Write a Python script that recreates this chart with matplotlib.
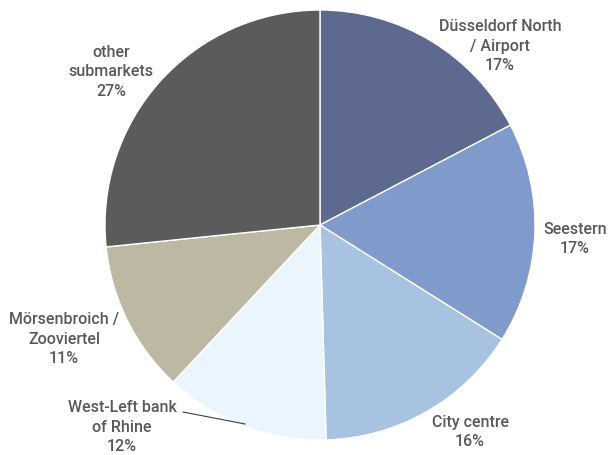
import matplotlib.pyplot as plt

# slice shares (clockwise from 12 o'clock)
names = ["Düsseldorf North\n/ Airport", "Seestern", "City centre",
         "West-Left bank\nof Rhine", "Mörsenbroich /\nZooviertel", "other\nsubmarkets"]
shares = [17.3, 16.6, 15.6, 12.4, 11.4, 26.6]
shown = ["17%", "17%", "16%", "12%", "11%", "27%"]
colors = ["#5e6990", "#7f9acb", "#a8c3e2", "#eaf5fd", "#bdb8a3", "#5b5b5b"]

# label centre positions in pixels (image coords, y down)
label_pos = [(500, 46), (575, 239), (470, 432), (122, 427), (64, 339), (111, 72)]

W, H = 610, 455
fig = plt.figure(figsize=(W / 100, H / 100), dpi=100)
ax = fig.add_axes([0, 0, 1, 1])

ax.pie(shares, colors=colors, startangle=90, counterclock=False,
       center=(320, H - 225), radius=215,
       wedgeprops=dict(edgecolor="white", linewidth=1))

# pie resets the limits, so set them afterwards
ax.set_xlim(0, W)
ax.set_ylim(0, H)
ax.set_aspect("equal")
ax.axis("off")

font = dict(fontsize=11.5, color="#595959", family="Roboto", weight="medium",
            linespacing=1.36, ha="center", va="center")

for i in range(len(names)):
    x, y = label_pos[i]
    txt = names[i] + "\n" + shown[i]
    if i == 3:
        ax.annotate(txt, xy=(245, H - 424), xytext=(x, H - y), **font)
        ax.plot([183, 245], [H - 412, H - 424], color="#404040", lw=0.8)
    else:
        ax.text(x, H - y, txt, **font)

fig.savefig("out.png", dpi=100)
